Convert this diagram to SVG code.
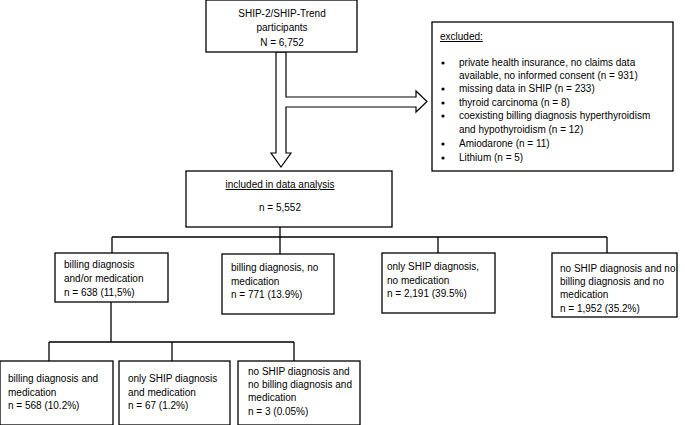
<svg xmlns="http://www.w3.org/2000/svg" width="685" height="425" viewBox="0 0 685 425">
<style>
.box{fill:#fff;stroke:#000;stroke-width:1.3}
.ln{fill:none;stroke:#000;stroke-width:1.3}
.arr{fill:#fff;stroke:#000;stroke-width:1.2;stroke-linejoin:miter}
text{font-family:"Liberation Sans",Arial,sans-serif;font-size:10px;fill:#000}
.c{text-anchor:middle}
.u{text-decoration:underline}
</style>
<rect width="685" height="425" fill="#fff"/>
<g id="connectors">
<polygon class="arr" points="276,52 286,52 286,97 416,97 416,91 427,101.5 416,112 416,107 286,107 286,153 291,153 281,167 271,153 276,153"/>
<path class="ln" d="M280,227 V237 M112,237 H607 M112,237 V253 M280,237 V254 M438,237 V253 M607,237 V253"/>
<path class="ln" d="M111,302 V342 M49,342 H294 M49,342 V361 M172,342 V361 M294,342 V361"/>
</g>
<g id="n-top">
<rect class="box" x="206" y="0" width="151" height="52"/>
<text class="c" x="282" y="17">SHIP-2/SHIP-Trend</text>
<text class="c" x="282" y="31">participants</text>
<text class="c" x="282" y="46">N = 6,752</text>
</g>
<g id="n-excluded">
<rect class="box" x="432" y="22" width="241" height="149"/>
<text class="u" x="440" y="40">excluded:</text>
<circle cx="443" cy="63" r="1.6"/><text x="459" y="66">private health insurance, no claims data</text>
<text x="459" y="79">available, no informed consent (n = 931)</text>
<circle cx="443" cy="89" r="1.6"/><text x="459" y="92">missing data in SHIP (n = 233)</text>
<circle cx="443" cy="103" r="1.6"/><text x="459" y="106">thyroid carcinoma (n = 8)</text>
<circle cx="443" cy="116" r="1.6"/><text x="459" y="119">coexisting billing diagnosis hyperthyroidism</text>
<text x="459" y="133">and hypothyroidism (n = 12)</text>
<circle cx="443" cy="144" r="1.6"/><text x="459" y="147">Amiodarone (n = 11)</text>
<circle cx="443" cy="158" r="1.6"/><text x="459" y="161">Lithium (n = 5)</text>
</g>
<g id="n-included">
<rect class="box" x="186" y="171" width="206" height="56"/>
<text class="c u" x="280" y="188">included in data analysis</text>
<text class="c" x="280" y="211">n = 5,552</text>
</g>
<g id="n-b1">
<rect class="box" x="55" y="253" width="113" height="49"/>
<text x="64" y="268">billing diagnosis</text>
<text x="64" y="282">and/or medication</text>
<text x="64" y="296">n = 638 (11,5%)</text>
</g>
<g id="n-b2">
<rect class="box" x="222" y="254" width="112" height="60"/>
<text x="231" y="271">billing diagnosis, no</text>
<text x="231" y="285">medication</text>
<text x="231" y="298">n = 771 (13.9%)</text>
</g>
<g id="n-b3">
<rect class="box" x="382" y="253" width="113" height="60"/>
<text x="387" y="270">only SHIP diagnosis,</text>
<text x="387" y="284">no medication</text>
<text x="387" y="297">n = 2,191 (39.5%)</text>
</g>
<g id="n-b4">
<rect class="box" x="552" y="253" width="125" height="64"/>
<text x="560" y="272">no SHIP diagnosis and no</text>
<text x="560" y="285">billing diagnosis and no</text>
<text x="560" y="298">medication</text>
<text x="560" y="312">n = 1,952 (35.2%)</text>
</g>
<g id="n-c1">
<rect class="box" x="0" y="361" width="113" height="64"/>
<text x="8" y="382">billing diagnosis and</text>
<text x="8" y="396">medication</text>
<text x="8" y="409">n = 568 (10.2%)</text>
</g>
<g id="n-c2">
<rect class="box" x="119" y="361" width="111" height="64"/>
<text x="128" y="382">only SHIP diagnosis</text>
<text x="128" y="396">and medication</text>
<text x="128" y="409">n = 67 (1.2%)</text>
</g>
<g id="n-c3">
<rect class="box" x="238" y="361" width="122" height="64"/>
<text x="248" y="375">no SHIP diagnosis and</text>
<text x="248" y="388">no billing diagnosis and</text>
<text x="248" y="401">medication</text>
<text x="248" y="415">n = 3 (0.05%)</text>
</g>
</svg>
